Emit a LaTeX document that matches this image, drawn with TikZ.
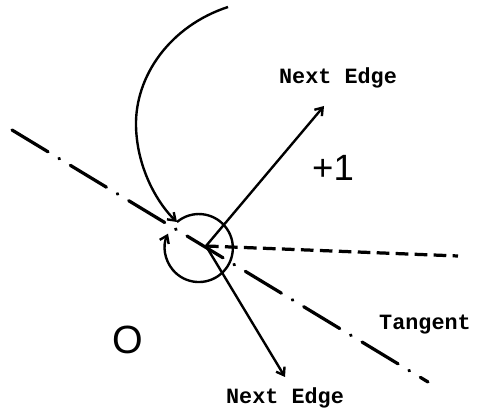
\documentclass[tikz,border=0pt]{standalone}
\usepackage{fontspec}
\setmainfont{Liberation Sans}
\setmonofont{Liberation Mono}
\usetikzlibrary{arrows.meta}

\begin{document}
\begin{tikzpicture}[x=0.025cm, y=0.025cm,
    >={Straight Barb[length=5pt,width=7pt]},
    edge/.style={line width=1.7pt},
    lbl/.style={font=\ttfamily\bfseries\fontsize{15.5}{18}\selectfont},
    region/.style={font=\fontsize{26}{30}\selectfont}]

    \useasboundingbox (0,0) rectangle (481,411);

    % vertex and ends
    \coordinate (v) at (206,165);
    \coordinate (up) at (324,305);
    \coordinate (down) at (285,34);
    \coordinate (ray) at (458,155);
    \coordinate (tanA) at (12,281);
    \coordinate (tanB) at (428,29);
    \coordinate (from) at (228,404);
    \coordinate (turn) at (177,189);

    % tangent line
    \draw[line width=2.3pt, line cap=round,
          dash pattern=on 30pt off 9pt on 0.5pt off 9pt] (tanA) -- (tanB);
    \draw[line width=2.3pt, dash pattern=on 9pt off 4.5pt] (v) -- (ray);

    % incoming edge
    \draw[edge, ->] (from) .. controls (170,385) and (135,335) .. (136,285)
                           .. controls (137,240) and (160,205) .. (turn);

    % turning loop
    \draw[edge, ->] (turn) arc[start angle=130, end angle=-205, radius=34];

    % next edges
    \draw[edge, ->] (v) -- (up);
    \draw[edge, ->] (v) -- (down);

    % labels
    \node[lbl] (nextup) at (338,333) {Next Edge};
    \node[lbl] (nextdown) at (285,13) {Next Edge};
    \node[lbl] (tangent) at (425,86) {Tangent};
    \node[region] (plus) at (333,243) {+1};
    \node[region, font=\fontsize{28}{32}\selectfont] (zero) at (128,71) {O};

\end{tikzpicture}
\end{document}
